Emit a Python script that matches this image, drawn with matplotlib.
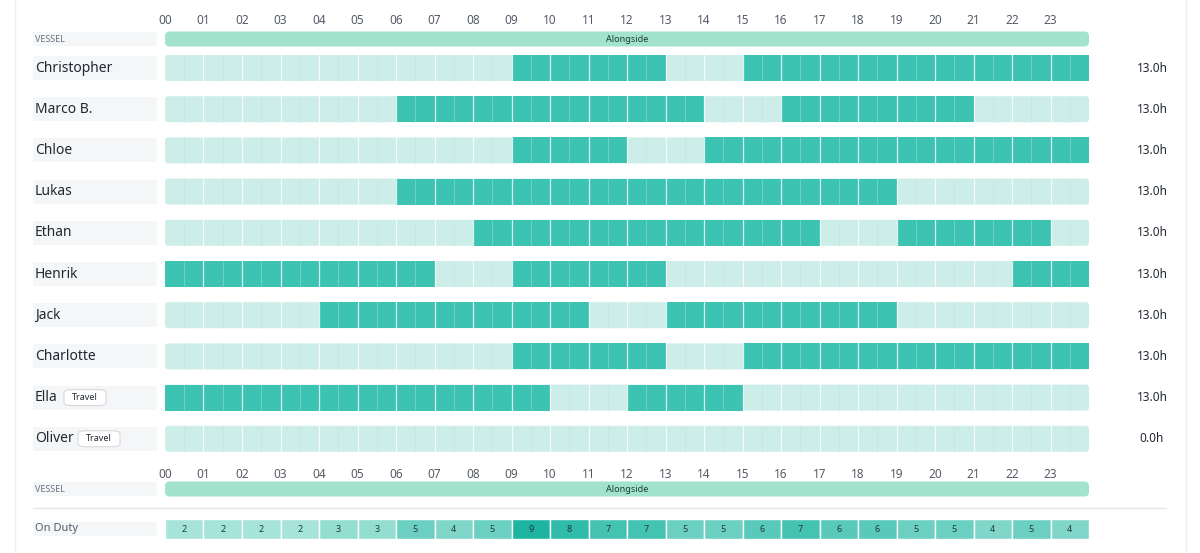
import matplotlib
matplotlib.use("Agg")
import matplotlib.pyplot as plt
from matplotlib.patches import FancyBboxPatch, Rectangle
import matplotlib.colors as mcolors

plt.rcParams['font.family'] = ['Noto Sans', 'DejaVu Sans']

names = ["Christopher", "Marco B.", "Chloe", "Lukas", "Ethan", "Henrik", "Jack", "Charlotte", "Ella", "Oliver"]
travel = [False, False, False, False, False, False, False, False, True, True]
shifts = [
    [(9, 13), (15, 24)],
    [(6, 14), (16, 21)],
    [(9, 12), (14, 24)],
    [(6, 19)],
    [(8, 17), (19, 23)],
    [(0, 7), (9, 13), (22, 24)],
    [(4, 11), (13, 19)],
    [(9, 13), (15, 24)],
    [(0, 10), (12, 15)],
    [],
]
totals = ["13.0h"] * 9 + ["0.0h"]
hour_labels = [f"{h:02d}" for h in range(24)]
on_duty = [2, 2, 2, 2, 3, 3, 5, 4, 5, 9, 8, 7, 7, 5, 5, 6, 7, 6, 6, 5, 5, 4, 5, 4]
vessel_label = "Alongside"

ON = "#3cc3b2"
OFF = "#cdede9"
VES = "#a1e3cc"
PX = 38.5
X0 = 165

fig = plt.figure(figsize=(12, 5.53), dpi=100)
ax = fig.add_axes([0, 0, 1, 1])
ax.set_xlim(-X0 / PX, (1200 - X0) / PX)
ax.set_ylim(553, 0)
ax.axis("off")

def px(x):
    return (x - X0) / PX

def rbox(x0, x1, yc, h, color, r=0.08):
    ax.add_patch(FancyBboxPatch((x0, yc - h / 2), x1 - x0, h,
                                boxstyle=f"round,pad=0,rounding_size={r}",
                                mutation_aspect=PX, fc=color, ec="none"))

def label_bg(yc, h):
    ax.add_patch(Rectangle((px(33), yc - h / 2), px(157) - px(33), h, fc="#f5f6f8", ec="none"))

# left & right borders
ax.plot([px(15), px(15)], [0, 553], color="#eceef1", lw=1)
ax.plot([px(1186), px(1186)], [0, 553], color="#eceef1", lw=1)

def axis_row(y):
    for h, lab in enumerate(hour_labels):
        ax.text(h, y, lab, ha="center", va="center", fontsize=8.5, color="#555b66")

def vessel_row(y):
    label_bg(y, 14)
    ax.text(px(35), y, "VESSEL", ha="left", va="center", fontsize=6.5, color="#6b7280")
    rbox(0, 24, y, 15, VES, 0.12)
    ax.text(12, y, vessel_label, ha="center", va="center", fontsize=6.5, color="#1f3b35", fontweight="bold")

axis_row(20)
vessel_row(39)

y0, dy, bh = 68, 41.2, 26
for i, (n, tr, sh, tot) in enumerate(zip(names, travel, shifts, totals)):
    y = y0 + i * dy
    label_bg(y, 24)
    t = ax.text(px(35), y, n, ha="left", va="center", fontsize=10, color="#222831")
    if tr:
        xoff = {"Ella": 64, "Oliver": 78}.get(n, 70)
        ax.add_patch(FancyBboxPatch((px(xoff), y - 8), px(xoff + 42) - px(xoff), 16,
                                    boxstyle="round,pad=0,rounding_size=0.2", mutation_aspect=PX / 1.0 * 0.4,
                                    fc="white", ec="#d5d8dd", lw=0.8))
        ax.text(px(xoff + 21), y, "Travel", ha="center", va="center", fontsize=6.5, color="#222831", fontweight="bold")
    rbox(0, 24, y, bh, OFF)
    for (a, b) in sh:
        ax.add_patch(Rectangle((a, y - bh / 2), b - a, bh, fc=ON, ec="none"))
    for h in range(1, 24):
        ax.plot([h, h], [y - bh / 2, y + bh / 2], color="white", lw=0.9, alpha=0.8)
    for h in range(24):
        ax.plot([h + 0.5, h + 0.5], [y - bh / 2, y + bh / 2], color="#b8e3dc", lw=0.5, alpha=0.6)
    ax.text(px(1152), y, tot, ha="center", va="center", fontsize=8.5, color="#222831")

axis_row(475)
vessel_row(489)
ax.plot([px(33), px(1166)], [508, 508], color="#e3e6ea", lw=1)

yd = 529
label_bg(yd, 14)
ax.text(px(35), yd, "On Duty", ha="left", va="center", fontsize=8, color="#555b66")
cmap = mcolors.LinearSegmentedColormap.from_list("d", ["#a6e3d9", "#1db5a2"])
for h, v in enumerate(on_duty):
    c = cmap((v - 2) / 7)
    ax.add_patch(Rectangle((h, yd - 10), 1, 20, fc=c, ec="white", lw=1))
    ax.text(h + 0.5, yd, str(v), ha="center", va="center", fontsize=6.5, color="#1f3b35")

fig.savefig("out.png", dpi=100)
